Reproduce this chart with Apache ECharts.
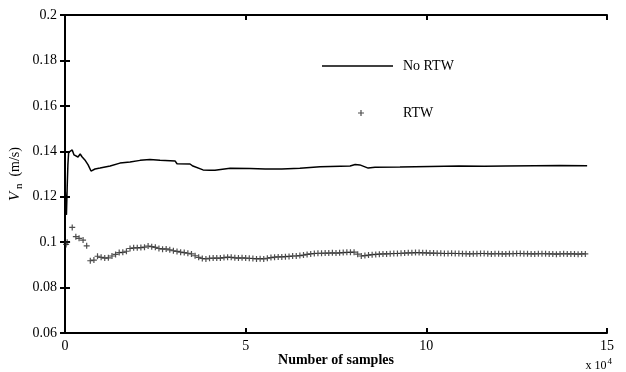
<!DOCTYPE html>
<html>
<head>
<meta charset="utf-8">
<script src="https://cdn.jsdelivr.net/npm/echarts@6/dist/echarts.min.js"></script>
<style>html,body{margin:0;padding:0;background:#fff}#c{width:626px;height:372px}</style>
</head>
<body>
<div id="c"></div>
<script>
// x values in units of 10^4 samples
var xTicks = [0, 5, 10, 15];
var yTicks = [0.06, 0.08, 0.1, 0.12, 0.14, 0.16, 0.18, 0.2];

var noRtwX = [0.0, 0.02, 0.04, 0.06, 0.08, 0.1, 0.15, 0.2, 0.25, 0.3, 0.36, 0.42, 0.47, 0.55, 0.64, 0.72, 0.83, 0.97, 1.25, 1.52, 1.8, 2.08, 2.35, 2.63, 3.05, 3.1, 3.46, 3.54, 3.82, 4.0, 4.15, 4.57, 5.12, 5.54, 6.0, 6.5, 7.06, 7.89, 8.03, 8.16, 8.39, 8.58, 9.27, 10.1, 10.9, 11.6, 12.2, 13.0, 13.7, 14.45];
var noRtwY = [0.125, 0.118, 0.112, 0.124, 0.134, 0.1395, 0.1400, 0.1406, 0.1384, 0.1392, 0.1375, 0.1388, 0.1376, 0.1362, 0.1340, 0.1313, 0.1322, 0.1326, 0.1335, 0.1348, 0.1353, 0.1360, 0.1364, 0.1360, 0.1357, 0.1345, 0.1344, 0.1335, 0.1318, 0.1316, 0.1316, 0.1325, 0.1324, 0.1322, 0.1322, 0.1325, 0.1332, 0.1335, 0.1342, 0.1340, 0.1326, 0.1330, 0.1331, 0.1333, 0.1335, 0.1334, 0.1335, 0.1336, 0.1337, 0.1336];

var rtwX = [0.03, 0.06, 0.2, 0.3, 0.39, 0.5, 0.6,
  0.7, 0.8, 0.9, 1.0, 1.1, 1.2, 1.3, 1.4, 1.5, 1.6, 1.7, 1.8, 1.9, 2.0, 2.1, 2.2, 2.3, 2.4, 2.5, 2.6, 2.7, 2.8, 2.9,
  3.0, 3.1, 3.2, 3.3, 3.4, 3.5, 3.6, 3.7, 3.8, 3.9, 4.0, 4.1, 4.2, 4.3, 4.4, 4.5, 4.6, 4.7, 4.8, 4.9,
  5.0, 5.1, 5.2, 5.3, 5.4, 5.5, 5.6, 5.7, 5.8, 5.9, 6.0, 6.1, 6.2, 6.3, 6.4, 6.5, 6.6, 6.7, 6.8, 6.9,
  7.0, 7.1, 7.2, 7.3, 7.4, 7.5, 7.6, 7.7, 7.8, 7.9, 8.0, 8.1, 8.2, 8.3, 8.4, 8.5, 8.6, 8.7, 8.8, 8.9,
  9.0, 9.1, 9.2, 9.3, 9.4, 9.5, 9.6, 9.7, 9.8, 9.9, 10.0, 10.1, 10.2, 10.3, 10.4, 10.5, 10.6, 10.7, 10.8, 10.9,
  11.0, 11.1, 11.2, 11.3, 11.4, 11.5, 11.6, 11.7, 11.8, 11.9, 12.0, 12.1, 12.2, 12.3, 12.4, 12.5, 12.6, 12.7, 12.8, 12.9,
  13.0, 13.1, 13.2, 13.3, 13.4, 13.5, 13.6, 13.7, 13.8, 13.9, 14.0, 14.1, 14.2, 14.3, 14.4];
var rtwY = [0.0990, 0.1000, 0.1065, 0.1024, 0.1017, 0.1009, 0.0984,
  0.0918, 0.0921, 0.0938, 0.0933, 0.0930, 0.0931, 0.0939, 0.0946, 0.0954, 0.0955, 0.0960, 0.0972, 0.0975, 0.0975, 0.0976, 0.0978, 0.0983, 0.0980, 0.0977, 0.0972, 0.0969, 0.0970, 0.0966,
  0.0962, 0.0959, 0.0956, 0.0954, 0.0951, 0.0948, 0.0940, 0.0933, 0.0928, 0.0926, 0.0929, 0.0930, 0.0930, 0.0930, 0.0932, 0.0934, 0.0933, 0.0931, 0.0930, 0.0931,
  0.0930, 0.0929, 0.0928, 0.0926, 0.0927, 0.0926, 0.0929, 0.0932, 0.0934, 0.0935, 0.0935, 0.0936, 0.0937, 0.0939, 0.0939, 0.0941, 0.0943, 0.0946, 0.0948, 0.0950,
  0.0951, 0.0951, 0.0952, 0.0952, 0.0953, 0.0952, 0.0953, 0.0954, 0.0955, 0.0955, 0.0956, 0.0947, 0.0939, 0.0941, 0.0943, 0.0945, 0.0946, 0.0947, 0.0948, 0.0948,
  0.0949, 0.0950, 0.0950, 0.0951, 0.0952, 0.0953, 0.0953, 0.0954, 0.0954, 0.0953, 0.0953, 0.0952, 0.0952, 0.0951, 0.0951, 0.0950, 0.0950, 0.0951, 0.0950, 0.0950,
  0.0949, 0.0949, 0.0948, 0.0949, 0.0949, 0.0950, 0.0950, 0.0949, 0.0948, 0.0949, 0.0949, 0.0948, 0.0948, 0.0949, 0.0949, 0.0950, 0.0950, 0.0949, 0.0949, 0.0948,
  0.0948, 0.0949, 0.0949, 0.0949, 0.0948, 0.0948, 0.0947, 0.0948, 0.0949, 0.0948, 0.0948, 0.0948, 0.0947, 0.0948, 0.0948];

var seriesNames = ['No RTW', 'RTW'];

function zip(a, b) { return a.map(function (v, i) { return [v, b[i]]; }); }

var FONT = 'Liberation Serif';
var plusPath = 'path://M2,0H3V2H5V3H3V5H2V3H0V2H2Z';

var chart = echarts.init(document.getElementById('c'), null, {renderer: 'canvas'});
var axisBase = {
  axisLine: {show: true, lineStyle: {color: '#000', width: 2}},
  axisTick: {show: true, inside: true, length: 5, lineStyle: {color: '#000', width: 2}},
  splitLine: {show: false}
};
chart.setOption({
  animation: false,
  backgroundColor: '#fff',
  grid: {left: 65, right: 19, top: 15, bottom: 39, show: false, containLabel: false, outerBoundsMode: 'none'},
  legend: [{
    data: [seriesNames[0]], orient: 'vertical', left: 317, top: 54,
    itemWidth: 71, itemHeight: 1.5, icon: 'rect',
    itemStyle: {color: '#000'},
    textStyle: {fontFamily: FONT, fontSize: 14, color: '#000', padding: [0, 0, 0, 5]},
    selectedMode: false
  }, {
    data: [seriesNames[1]], orient: 'vertical', left: 353, top: 101,
    itemWidth: 6, itemHeight: 6, icon: plusPath,
    itemStyle: {color: '#222'},
    textStyle: {fontFamily: FONT, fontSize: 14, color: '#000', padding: [0, 0, 0, 34]},
    selectedMode: false
  }],
  xAxis: [Object.assign({}, axisBase, {
    type: 'value', min: xTicks[0], max: xTicks[xTicks.length - 1], interval: 5,
    position: 'bottom',
    axisLabel: {fontFamily: FONT, fontSize: 14, color: '#000', margin: 6},
    name: 'Number of samples', nameLocation: 'middle', nameGap: 20, nameMoveOverlap: false,
    nameTextStyle: {fontFamily: FONT, fontSize: 14, fontWeight: 'bold', color: '#000'}
  }), Object.assign({}, axisBase, {
    type: 'value', min: xTicks[0], max: xTicks[xTicks.length - 1], interval: 5,
    position: 'top', axisLabel: {show: false}
  })],
  yAxis: [Object.assign({}, axisBase, {
    type: 'value', min: yTicks[0], max: yTicks[yTicks.length - 1], interval: 0.02,
    position: 'left',
    axisLabel: {fontFamily: FONT, fontSize: 14, color: '#000', margin: 8},
    name: '{v|V}{s| n}{u|  (m/s)}', nameLocation: 'middle', nameGap: 40, nameRotate: 90, nameMoveOverlap: false,
    nameTextStyle: {
      rich: {
        v: {fontFamily: FONT, fontSize: 15, fontStyle: 'italic', color: '#000'},
        s: {fontFamily: FONT, fontSize: 11, fontWeight: 'normal', color: '#000', verticalAlign: 'bottom', padding: [8, 0, 0, 0]},
        u: {fontFamily: FONT, fontSize: 14, fontWeight: 'normal', color: '#000'}
      }
    }
  }), Object.assign({}, axisBase, {
    type: 'value', min: yTicks[0], max: yTicks[yTicks.length - 1], interval: 0.02,
    position: 'right', axisLabel: {show: false}
  })],
  graphic: [{
    type: 'text', right: 14, bottom: 0,
    style: {
      text: '{a|x 10}{b|4}',
      rich: {
        a: {fontFamily: FONT, fontSize: 12, fill: '#000'},
        b: {fontFamily: FONT, fontSize: 9, fill: '#000', verticalAlign: 'top', padding: [0, 0, 8, 1]}
      }
    }
  }],
  series: [{
    name: seriesNames[0], type: 'line', data: zip(noRtwX, noRtwY),
    showSymbol: false, symbol: 'none',
    lineStyle: {color: '#000', width: 1.5}, itemStyle: {color: '#000'}
  }, {
    name: seriesNames[1], type: 'scatter', data: zip(rtwX, rtwY),
    symbol: plusPath, symbolSize: 6,
    itemStyle: {color: '#222'}
  }]
});
</script>
</body>
</html>
